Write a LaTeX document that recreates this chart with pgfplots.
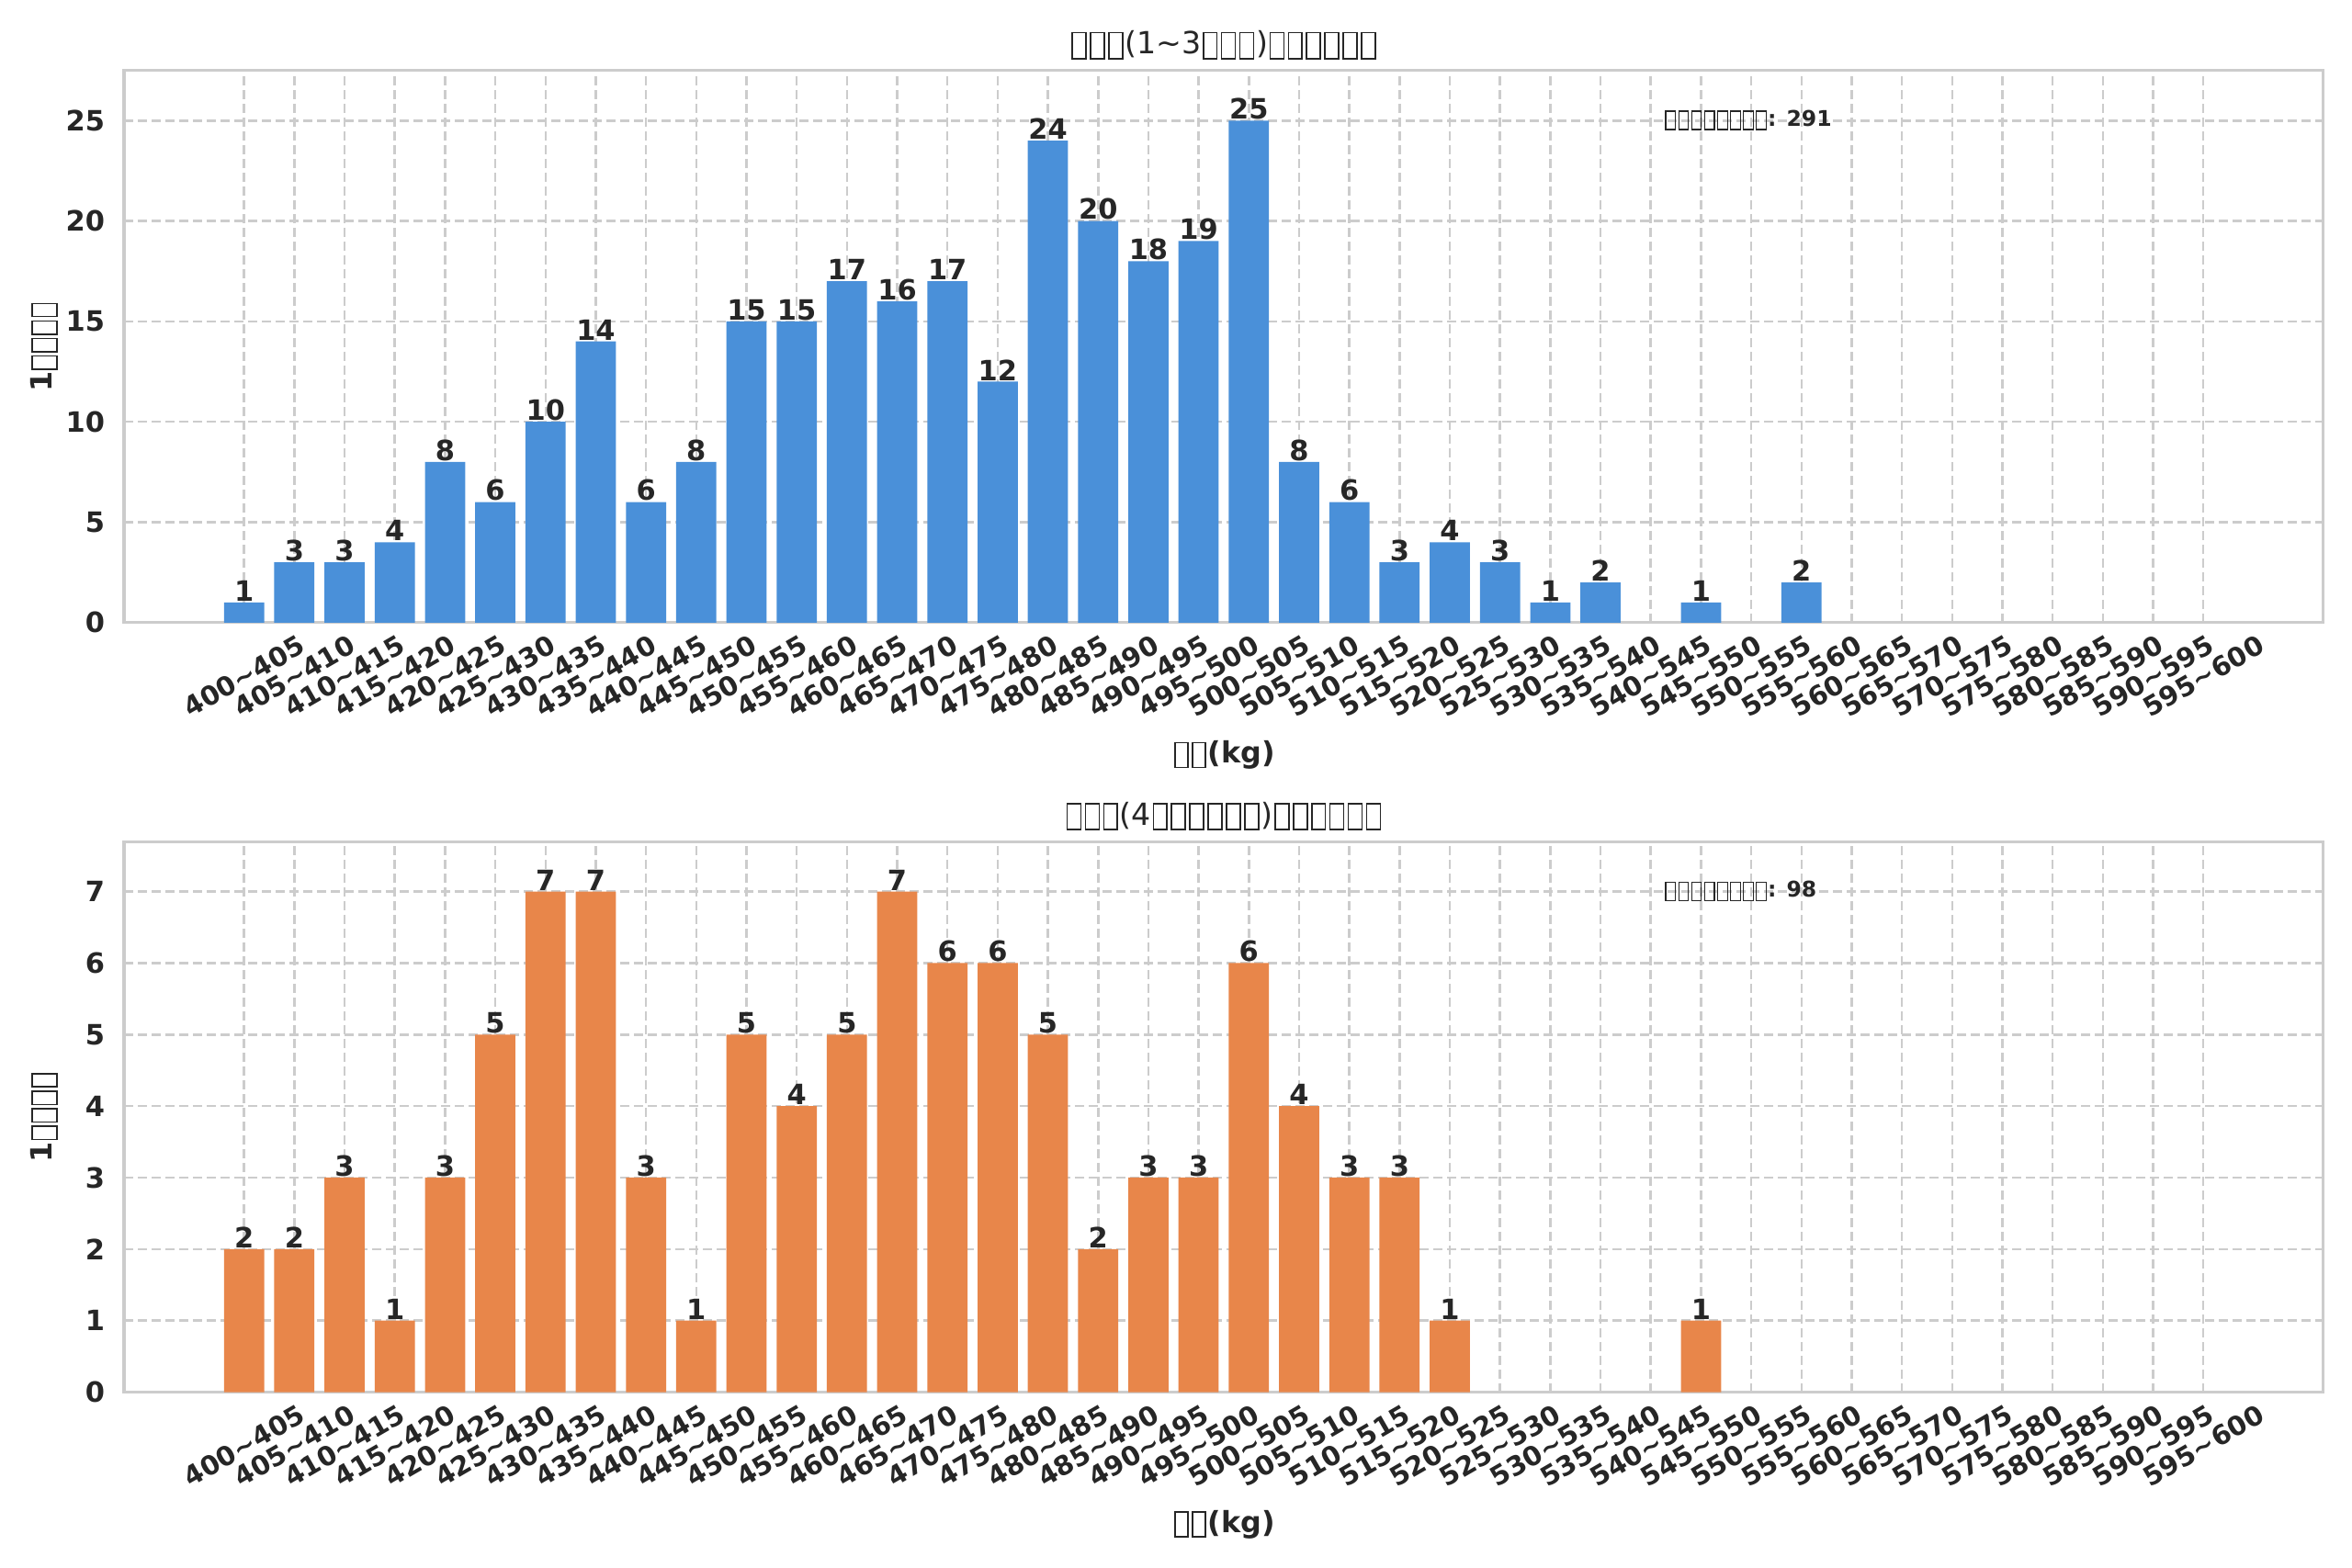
\documentclass[border=0pt]{standalone}
\usepackage{fontspec}
\setmainfont{DejaVu Sans}
\usepackage{pgfplots}
\pgfplotsset{compat=1.18}
\definecolor{txt}{HTML}{262626}
\definecolor{barblue}{HTML}{4A90D9}
\definecolor{barorange}{HTML}{E8864A}
\definecolor{gridc}{HTML}{CCCCCC}
% missing-glyph box, as in the reference
\newcommand\tb{\kern0.05em\begingroup\setlength\fboxsep{0pt}\setlength\fboxrule{0.05em}\raisebox{-0.13em}{\fbox{\rule{0pt}{0.8em}\rule{0.4em}{0pt}}}\endgroup\kern0.05em}
\newcommand\tl{\char"007E }
\pgfplotsset{
  myaxis/.style={
    scale only axis,
    width=861.8bp,
    xmin=-2.39, xmax=41.39,
    ymin=0,
    ybar, bar width=0.8,
    xtick={0,...,39},
    xticklabels={400\tl405,405\tl410,410\tl415,415\tl420,420\tl425,425\tl430,430\tl435,435\tl440,440\tl445,445\tl450,450\tl455,455\tl460,460\tl465,465\tl470,470\tl475,475\tl480,480\tl485,485\tl490,490\tl495,495\tl500,500\tl505,505\tl510,510\tl515,515\tl520,520\tl525,525\tl530,530\tl535,535\tl540,540\tl545,545\tl550,550\tl555,555\tl560,560\tl565,565\tl570,570\tl575,575\tl580,580\tl585,585\tl590,590\tl595,595\tl600},
    major tick length=0pt,
    /pgf/number format/assume math mode=true,
    xticklabel style={font=\bfseries\fontsize{10.5}{12}\selectfont, text=txt, yshift=-21bp, rotate=30, anchor=center},
    yticklabel style={font=\bfseries\fontsize{11}{13}\selectfont, text=txt, xshift=-4bp},
    grid=major,
    major grid style={draw=gridc, line width=0.9bp, dash pattern=on 3.6bp off 1.8bp},
    axis line style={draw=gridc, line width=1.1bp},
    title style={at={(axis description cs:0.5,1.046)}, anchor=center, yshift=-6pt, font=\fontsize{12}{14}\selectfont, text=txt},
    xlabel style={at={(axis description cs:0.5,-0.24)}, anchor=center, font=\bfseries\fontsize{11.5}{13}\selectfont, text=txt},
    ylabel style={at={(axis description cs:-0.0363,0.5)}, anchor=center, font=\bfseries\fontsize{11.5}{13}\selectfont, text=txt},
    nodes near coords,
    every node near coord/.append style={font=\bfseries\fontsize{11}{13}\selectfont, text=txt, anchor=south, inner ysep=0.3bp},
    xlabel={\tb\tb(kg)},
    ylabel={1\tb\tb\tb\tb},
  }
}
\begin{document}
\begin{tikzpicture}
\path[use as bounding box] (0,0) rectangle (921.6bp,614.5bp);
\begin{axis}[myaxis,
  at={(48.6bp,586.9bp)}, anchor=north west,
  height=216.4bp,
  ymax=27.5, ytick={0,5,10,15,20,25},
  title={\tb\tb\tb(1\tl3\tb\tb\tb)\tb\tb\tb\tb\tb\tb},
]
\addplot[fill=barblue, draw=none] coordinates {
(0,1) (1,3) (2,3) (3,4) (4,8) (5,6) (6,10) (7,14) (8,6) (9,8)
(10,15) (11,15) (12,17) (13,16) (14,17) (15,12) (16,24) (17,20) (18,18) (19,19)
(20,25) (21,8) (22,6) (23,3) (24,4) (25,3) (26,1) (27,2) (29,1) (31,2)
};
\node[anchor=west, font=\fontsize{8.5}{10}\selectfont, text=txt, inner sep=0pt] at (rel axis cs:0.7,0.91) {\tb\tb\tb\tb\tb\tb\tb\tb\textbf{: 291}};
\end{axis}
\begin{axis}[myaxis,
  at={(48.6bp,284.7bp)}, anchor=north west,
  height=215.8bp,
  ymax=7.7, ytick={0,1,2,3,4,5,6,7},
  title={\tb\tb\tb(4\tb\tb\tb\tb\tb\tb)\tb\tb\tb\tb\tb\tb},
]
\addplot[fill=barorange, draw=none] coordinates {
(0,2) (1,2) (2,3) (3,1) (4,3) (5,5) (6,7) (7,7) (8,3) (9,1)
(10,5) (11,4) (12,5) (13,7) (14,6) (15,6) (16,5) (17,2) (18,3) (19,3)
(20,6) (21,4) (22,3) (23,3) (24,1) (29,1)
};
\node[anchor=west, font=\fontsize{8.5}{10}\selectfont, text=txt, inner sep=0pt] at (rel axis cs:0.7,0.91) {\tb\tb\tb\tb\tb\tb\tb\tb\textbf{: 98}};
\end{axis}
\end{tikzpicture}
\end{document}
